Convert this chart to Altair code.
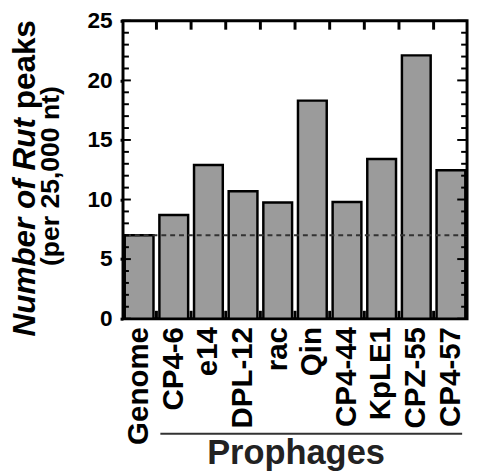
import altair as alt
import pandas as pd

# Rut peaks per 25,000 nt, genome-wide vs. each prophage
categories = ["Genome", "CP4-6", "e14", "DPL-12", "rac", "Qin",
              "CP4-44", "KpLE1", "CPZ-55", "CP4-57"]
peaks = [7.0, 8.7, 12.9, 10.7, 9.75, 18.3, 9.8, 13.4, 22.1, 12.45]
genome_level = [7.0]
major_ticks = [0, 5, 10, 15, 20, 25]
minor_ticks = [1, 2, 3, 4, 6, 7, 8, 9, 11, 12, 13, 14,
               16, 17, 18, 19, 21, 22, 23, 24]

W, H = 350, 303
FONT = "Liberation Sans"

df = pd.DataFrame({"phage": categories, "peaks": peaks})
x_scale = alt.Scale(domain=categories, paddingInner=0.17, paddingOuter=0.05)
y_scale = alt.Scale(domain=[0, 25], nice=False)

bars = alt.Chart(df).mark_bar(
    color="#9b9b9b", stroke="black", strokeWidth=2.5
).encode(
    x=alt.X("phage:N", sort=categories, scale=x_scale, title=None,
            axis=alt.Axis(labelAngle=-90, labelFontSize=30, labelPadding=8,
                          ticks=False, domain=False)),
    y=alt.Y("peaks:Q", scale=y_scale, title=None,
            axis=alt.Axis(values=major_ticks, tickSize=3, tickWidth=3,
                          tickColor="black", labelFontSize=23, labelPadding=8,
                          domain=False, grid=False)),
)

# genome average as dashed reference line
dashed = alt.Chart(pd.DataFrame({"level": genome_level})).mark_rule(
    strokeDash=[5, 4], color="#333", strokeWidth=2
).encode(y=alt.Y("level:Q", scale=y_scale))


def inner_ticks(values, x0, x1):
    return alt.Chart(pd.DataFrame({"v": values})).mark_rule(
        color="black", strokeWidth=2
    ).encode(y=alt.Y("v:Q", scale=y_scale), x=alt.value(x0), x2=alt.value(x1))


# small ticks between bars on top and bottom frame
gaps = pd.DataFrame({"phage": categories[1:]})
gap_x = alt.X("phage:N", sort=categories, scale=x_scale, bandPosition=0)
bottom_ticks = alt.Chart(gaps).mark_rule(
    color="black", strokeWidth=3, xOffset=-3
).encode(x=gap_x, y=alt.value(H), y2=alt.value(H - 8))
top_ticks = alt.Chart(gaps).mark_rule(
    color="black", strokeWidth=3, xOffset=-3
).encode(x=gap_x, y=alt.value(0), y2=alt.value(9))

one = pd.DataFrame({"t": [0]})
title_a = alt.Chart(one).mark_text(
    text="Number of Rut", angle=270, align="right", baseline="middle",
    font=FONT, fontSize=32, fontWeight="bold", fontStyle="italic", color="black"
).encode(x=alt.value(-100), y=alt.value(99))
title_b = alt.Chart(one).mark_text(
    text="peaks", angle=270, align="left", baseline="middle",
    font=FONT, fontSize=32, fontWeight="bold", color="black"
).encode(x=alt.value(-100), y=alt.value(90))
subtitle = alt.Chart(one).mark_text(
    text="(per 25,000 nt)", angle=270, align="center", baseline="middle",
    font=FONT, fontSize=27, fontWeight="bold", color="black"
).encode(x=alt.value(-73), y=alt.value(158))

bracket = alt.Chart(one).mark_rule(color="#333", strokeWidth=2).encode(
    x=alt.value(38), x2=alt.value(345), y=alt.value(420)
)
prophages = alt.Chart(one).mark_text(
    text="Prophages", align="center", baseline="alphabetic",
    font=FONT, fontSize=35, fontWeight="bold", color="#222"
).encode(x=alt.value(176), y=alt.value(451))

chart = (
    alt.layer(bars, dashed,
              inner_ticks(major_ticks, 0, 8), inner_ticks(minor_ticks, 0, 6),
              inner_ticks(major_ticks, W, W - 10), inner_ticks(minor_ticks, W, W - 6),
              bottom_ticks, top_ticks,
              title_a, title_b, subtitle, bracket, prophages)
    .properties(
        width=W, height=H,
        autosize=alt.AutoSizeParams(type="none"),
        padding={"left": 117, "top": 9, "right": 3, "bottom": 155},
    )
    .configure_view(stroke="black", strokeWidth=3)
    .configure_axis(labelFont=FONT, labelFontWeight="bold", labelColor="black")
)

chart.save("out.html", embed_options={"renderer": "svg", "actions": False})
